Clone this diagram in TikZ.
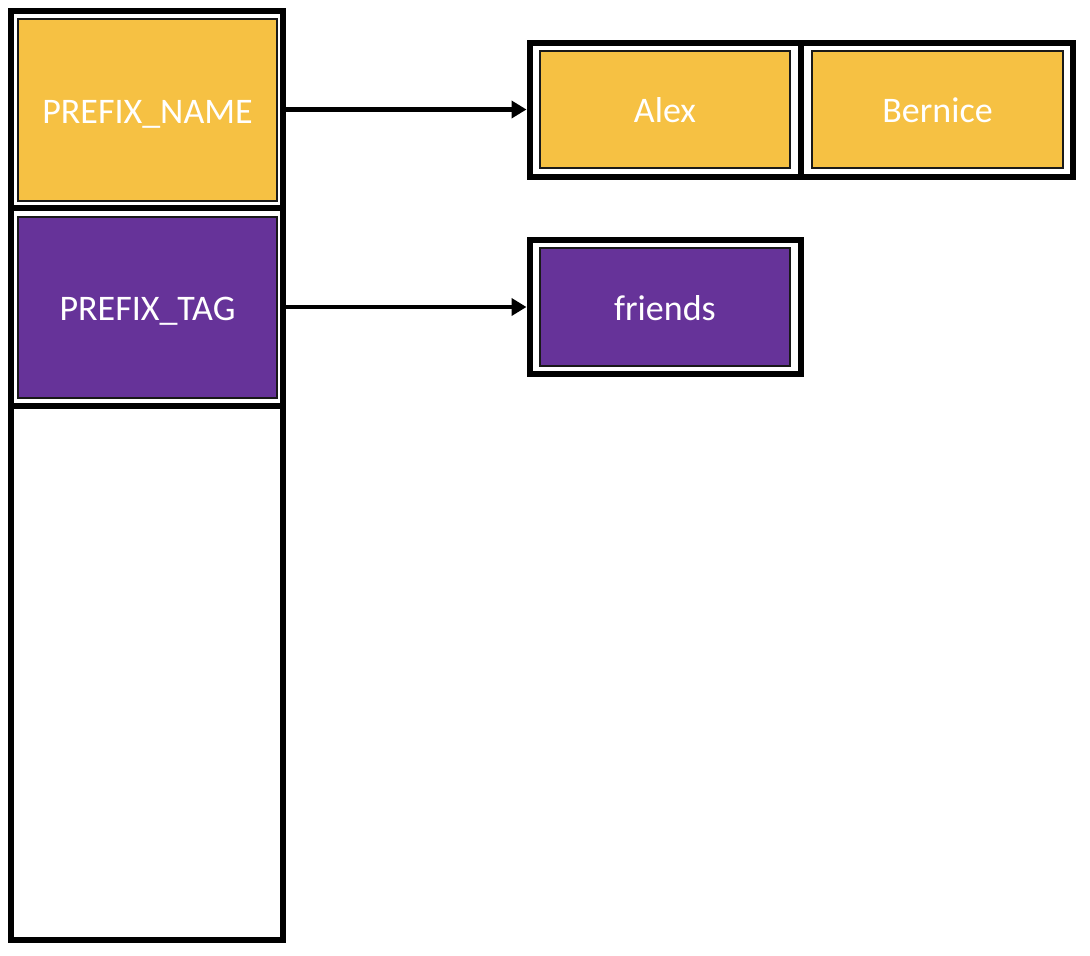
\documentclass[tikz,border=0pt]{standalone}
\usepackage{fontspec}
\setmainfont{Carlito}
\usetikzlibrary{arrows.meta}
\definecolor{cyellow}{HTML}{F6C143}
\definecolor{cpurple}{HTML}{663399}
\begin{document}
\begin{tikzpicture}[x=1pt,y=-1pt,
  cell/.style={draw=black, line width=6pt, inner sep=0pt, fill=white},
  entry/.style={draw=black!90, line width=1.5pt, inner sep=0pt, text=white,
    text height=26.8pt, text depth=0pt,
    font=\fontsize{36}{43}\selectfont},
  link/.style={line width=4.5pt, -{Triangle[length=15pt,width=17pt]}}
]
\useasboundingbox (0,0) rectangle (1090,956);
% left column
\node[cell, minimum width=272pt, minimum height=197pt] (namecell) at (147,109.5) {};
\node[cell, minimum width=272pt, minimum height=198pt] (tagcell) at (147,307) {};
\node[cell, minimum width=272pt, minimum height=534pt] (emptycell) at (147,673) {};
\node[entry, fill=cyellow, minimum width=259pt, minimum height=182pt] (name) at (147.5,110) {PREFIX\_NAME};
\node[entry, fill=cpurple, minimum width=259pt, minimum height=181pt] (tag) at (147.5,307.5) {PREFIX\_TAG};
% right lists
\node[cell, minimum width=271pt, minimum height=134pt] (alexcell) at (665,110) {};
\node[cell, minimum width=272.5pt, minimum height=134pt] (berncell) at (936.75,110) {};
\node[cell, minimum width=271pt, minimum height=134.5pt] (friendscell) at (665,307) {};
\node[entry, fill=cyellow, minimum width=250pt, minimum height=117pt] (alex) at (665,109.5) {Alex};
\node[entry, fill=cyellow, minimum width=251pt, minimum height=117pt] (bern) at (937.5,109.5) {Bernice};
\node[entry, fill=cpurple, minimum width=250pt, minimum height=118pt] (friends) at (665,307) {friends};
% arrows
\draw[link] (namecell.east) -- (namecell.east -| alexcell.west);
\draw[link] (tagcell.east) -- (tagcell.east -| friendscell.west);
\end{tikzpicture}
\end{document}
